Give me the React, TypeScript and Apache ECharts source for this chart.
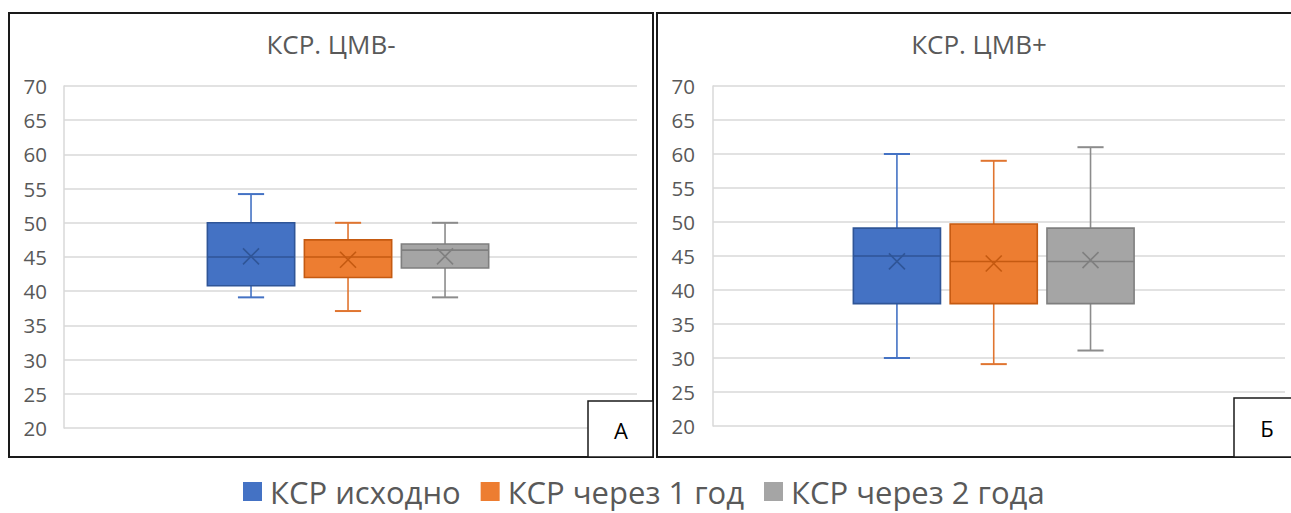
import React, { useEffect, useRef } from 'react';
import * as echarts from 'echarts';

// ---- data ----
const seriesNames = ['КСР исходно', 'КСР через 1 год', 'КСР через 2 года'];
const panelTitles = ['КСР. ЦМВ-', 'КСР. ЦМВ+'];
const panelLetters = ['А', 'Б'];
const yMin = 20;
const yMax = 70;
const yStep = 5;
// [min, Q1, median, Q3, max, mean]
const cmvNegBaseline = [39.1, 40.8, 45, 50, 54.2, 45.1];
const cmvNegYear1 = [37.1, 42, 45, 47.5, 50, 44.6];
const cmvNegYear2 = [39.1, 43.4, 46, 46.9, 50, 45.1];
const cmvPosBaseline = [30, 38, 45, 49.1, 60, 44.2];
const cmvPosYear1 = [29.1, 38, 44.2, 49.7, 59, 43.9];
const cmvPosYear2 = [31.1, 38, 44.2, 49.1, 61, 44.4];

// ---- styles ----
const fills = ['#4472C4', '#ED7D31', '#A5A5A5'];
const strokes = ['#2F5597', '#C55A11', '#7F7F7F'];
const whiskers = ['#4472C4', '#E07530', '#8C8C8C'];
const FONT = '"Open Sans", sans-serif';

const panels = [
  { title: panelTitles[0], letter: panelLetters[0], data: [cmvNegBaseline, cmvNegYear1, cmvNegYear2] },
  { title: panelTitles[1], letter: panelLetters[1], data: [cmvPosBaseline, cmvPosYear1, cmvPosYear2] },
];

const makeRender = (si: number) => (params: any, api: any) => {
  const x = api.value(0);
  const mn = api.value(1);
  const q1 = api.value(2);
  const md = api.value(3);
  const q3 = api.value(4);
  const mx = api.value(5);
  const mean = api.value(6);
  const pMax = api.coord([x, mx]);
  const pQ3 = api.coord([x, q3]);
  const pMed = api.coord([x, md]);
  const pQ1 = api.coord([x, q1]);
  const pMin = api.coord([x, mn]);
  const pMean = api.coord([x, mean]);
  const bw = api.size([0.9, 0])[0];
  const cap = api.size([0.27, 0])[0];
  const cx = pMed[0];
  const m = 8;
  const wStyle = { stroke: whiskers[si], lineWidth: 1.6 };
  const sStyle = { stroke: strokes[si], lineWidth: 1.6 };
  return {
    type: 'group',
    children: [
      { type: 'line', shape: { x1: cx, y1: pMax[1], x2: cx, y2: pQ3[1] }, style: wStyle },
      { type: 'line', shape: { x1: cx, y1: pQ1[1], x2: cx, y2: pMin[1] }, style: wStyle },
      { type: 'line', shape: { x1: cx - cap / 2, y1: pMax[1], x2: cx + cap / 2, y2: pMax[1] }, style: { stroke: whiskers[si], lineWidth: 2 } },
      { type: 'line', shape: { x1: cx - cap / 2, y1: pMin[1], x2: cx + cap / 2, y2: pMin[1] }, style: { stroke: whiskers[si], lineWidth: 2 } },
      {
        type: 'rect',
        shape: { x: cx - bw / 2, y: pQ3[1], width: bw, height: pQ1[1] - pQ3[1] },
        style: { fill: fills[si], stroke: strokes[si], lineWidth: 1.6 },
      },
      { type: 'line', shape: { x1: cx - bw / 2, y1: pMed[1], x2: cx + bw / 2, y2: pMed[1] }, style: sStyle },
      { type: 'line', shape: { x1: cx - m, y1: pMean[1] - m, x2: cx + m, y2: pMean[1] + m }, style: sStyle },
      { type: 'line', shape: { x1: cx - m, y1: pMean[1] + m, x2: cx + m, y2: pMean[1] - m }, style: sStyle },
    ],
  };
};

const gridDefs = [
  { left: 64, top: 86, width: 573, height: 342, xMin: -0.928, xMax: 4.979, labelMargin: 17 },
  { left: 713, top: 86, width: 572, height: 340, xMin: -0.9, xMax: 5.009, labelMargin: 18 },
];

export default function App() {
  const ref = useRef<HTMLDivElement>(null);
  useEffect(() => {
    if (!ref.current) return;
    const chart = echarts.init(ref.current, undefined, { renderer: 'svg' });
    const series: any[] = [];
    panels.forEach((p, pi) => {
      p.data.forEach((vals, si) => {
        series.push({
          type: 'custom',
          name: seriesNames[si],
          xAxisIndex: pi,
          yAxisIndex: pi,
          itemStyle: { color: fills[si] },
          renderItem: makeRender(si),
          encode: { x: 0, y: [1, 2, 3, 4, 5, 6] },
          data: [[si + 1, ...vals]],
          z: 5,
        });
      });
    });
    const option: any = {
      animation: false,
      backgroundColor: '#ffffff',
      textStyle: { fontFamily: FONT },
      grid: gridDefs.map((g) => ({ left: g.left, top: g.top, width: g.width, height: g.height })),
      xAxis: gridDefs.map((g, i) => ({
        type: 'value',
        gridIndex: i,
        min: g.xMin,
        max: g.xMax,
        show: false,
        splitLine: { show: false },
      })),
      yAxis: gridDefs.map((g, i) => ({
        type: 'value',
        gridIndex: i,
        min: yMin,
        max: yMax,
        interval: yStep,
        axisLine: { show: true, onZero: false, lineStyle: { color: '#D9D9D9', width: 1.5 } },
        axisTick: { show: false },
        axisLabel: { fontSize: 20.5, color: '#595959', margin: g.labelMargin, fontFamily: FONT },
        splitLine: { show: true, lineStyle: { color: '#D9D9D9', width: 1.5 } },
      })),
      legend: {
        data: seriesNames,
        left: 243,
        top: 476,
        icon: 'rect',
        itemWidth: 19,
        itemHeight: 19,
        itemGap: 20,
        padding: 0,
        textStyle: { fontSize: 31, lineHeight: 31, color: '#595959', fontFamily: FONT, padding: [0, 0, 0, 3] },
      },
      graphic: [
        { type: 'rect', z: 100, shape: { x: 9, y: 13, width: 644, height: 444 }, style: { fill: 'none', stroke: '#1a1a1a', lineWidth: 2 } },
        { type: 'rect', z: 100, shape: { x: 657, y: 13, width: 644, height: 444 }, style: { fill: 'none', stroke: '#1a1a1a', lineWidth: 2 } },
        { type: 'rect', z: 100, shape: { x: 588, y: 401, width: 65, height: 56 }, style: { fill: '#ffffff', stroke: '#1a1a1a', lineWidth: 1.5 } },
        { type: 'rect', z: 100, shape: { x: 1234, y: 398, width: 67, height: 59 }, style: { fill: '#ffffff', stroke: '#1a1a1a', lineWidth: 1.5 } },
        { type: 'text', z: 101, x: 621, y: 430, style: { text: panels[0].letter, fontSize: 22, fill: '#000000', align: 'center', verticalAlign: 'middle', fontFamily: FONT } },
        { type: 'text', z: 101, x: 1267, y: 428, style: { text: panels[1].letter, fontSize: 22, fill: '#000000', align: 'center', verticalAlign: 'middle', fontFamily: FONT } },
        { type: 'text', z: 101, x: 331, y: 44, style: { text: panels[0].title, fontSize: 26, fill: '#595959', align: 'center', verticalAlign: 'middle', fontFamily: FONT } },
        { type: 'text', z: 101, x: 979, y: 44, style: { text: panels[1].title, fontSize: 26, fill: '#595959', align: 'center', verticalAlign: 'middle', fontFamily: FONT } },
      ],
      series,
    };
    chart.setOption(option);
    return () => chart.dispose();
  }, []);
  return <div ref={ref} style={{ width: 1291, height: 513, position: 'absolute', left: 0, top: 0 }} />;
}
